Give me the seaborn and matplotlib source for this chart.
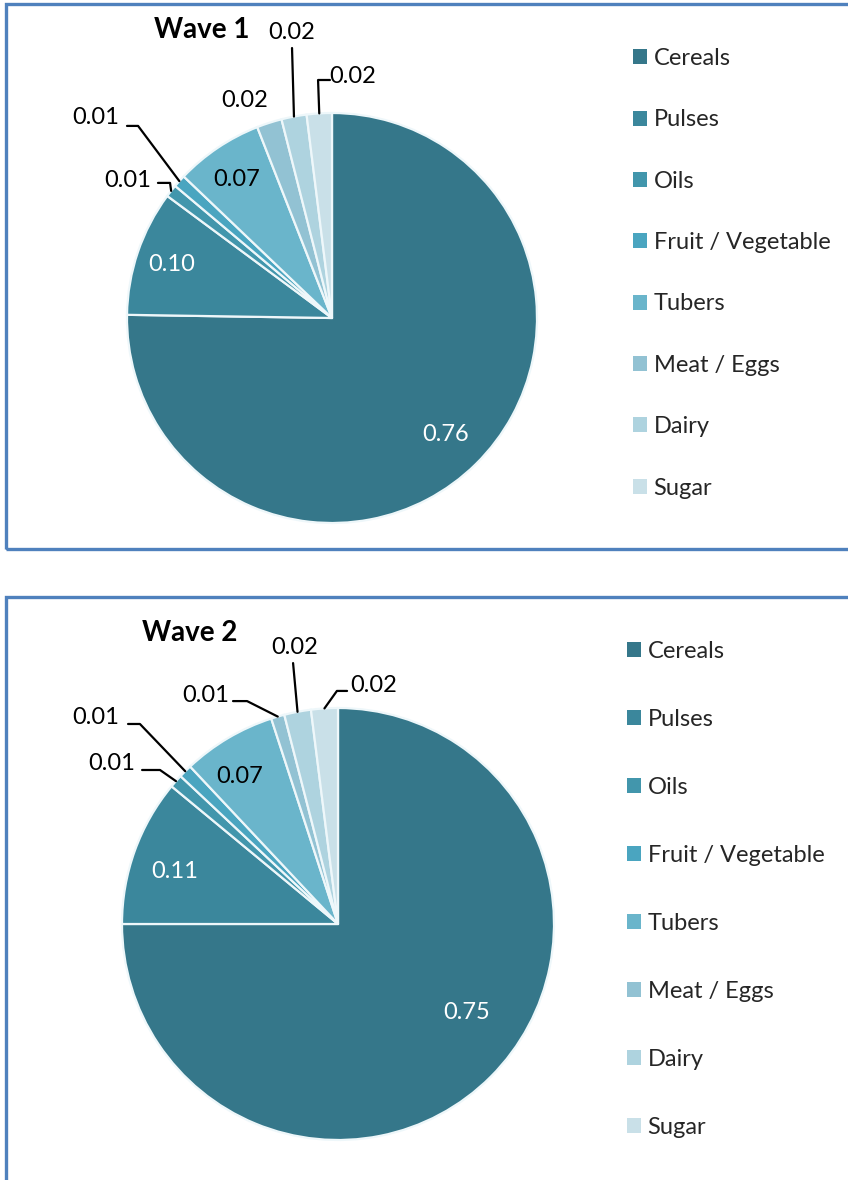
import matplotlib
matplotlib.use("Agg")
import matplotlib.pyplot as plt
import numpy as np
import seaborn as sns
from matplotlib.patches import Patch, Rectangle

# data
categories = ["Cereals", "Pulses", "Oils", "Fruit / Vegetable", "Tubers",
              "Meat / Eggs", "Dairy", "Sugar"]
wave1_values = [0.76, 0.10, 0.01, 0.01, 0.07, 0.02, 0.02, 0.02]
wave2_values = [0.75, 0.11, 0.01, 0.01, 0.07, 0.01, 0.02, 0.02]
wave_titles = ["Wave 1", "Wave 2"]

slice_colors = ["#35778A", "#3B879C", "#4296AC", "#4AA5C0",
                "#6AB5CB", "#92C2D3", "#AED3DF", "#C9E0E8"]

sns.set_theme(style="white")
plt.rcParams["font.family"] = ["Lato", "DejaVu Sans"]

W, H = 848, 1180
fig = plt.figure(figsize=(W / 100, H / 100), dpi=100)
palette = sns.color_palette(slice_colors)

# label layout per wave, in pie radius units: (text xy, leader start, leader elbow)
label_layout = [
    [((0.556, -0.566), None, None),
     ((-0.780, 0.259), None, None),
     ((-0.995, 0.673), (-0.849, 0.659), (-0.790, 0.659)),
     ((-1.151, 0.976), (-1.000, 0.937), (-0.946, 0.937)),
     ((-0.463, 0.678), None, None),
     ((-0.424, 1.059), None, None),
     ((-0.195, 1.395), (-0.195, 1.317), (-0.195, 1.317)),
     ((0.102, 1.180), (-0.010, 1.161), (-0.068, 1.161))],
    [((0.597, -0.412), None, None),
     ((-0.755, 0.241), None, None),
     ((-1.046, 0.745), (-0.907, 0.713), (-0.824, 0.713)),
     ((-1.120, 0.954), (-0.972, 0.926), (-0.917, 0.926)),
     ((-0.454, 0.681), None, None),
     ((-0.611, 1.060), (-0.486, 1.032), (-0.421, 1.032)),
     ((-0.199, 1.278), (-0.208, 1.208), (-0.208, 1.208)),
     ((0.167, 1.106), (0.042, 1.079), (-0.005, 1.079))],
]
# pie centre / radius (px), title xy, legend anchor (px), legend spacing
panels = [
    dict(cx=332, cy=318, r=205, title=(-0.634, 1.405), leg=(633, 48), spacing=1.71),
    dict(cx=338, cy=924, r=216, title=(-0.685, 1.347), leg=(627, 641), spacing=1.99),
]

for i, (values, p) in enumerate(zip([wave1_values, wave2_values], panels)):
    cx, cy, r = p["cx"], p["cy"], p["r"]
    ax = fig.add_axes([(cx - r) / W, 1 - (cy + r) / H, 2 * r / W, 2 * r / H])
    wedges, _ = ax.pie(values, colors=palette, startangle=90, counterclock=False,
                       wedgeprops=dict(edgecolor="#EEF7FA", linewidth=1.6))
    ax.set_xlim(-1, 1)
    ax.set_ylim(-1, 1)
    ax.axis("off")

    for j, (w, v) in enumerate(zip(wedges, values)):
        (tx, ty), start, elbow = label_layout[i][j]
        inside = j < 2
        ax.text(tx, ty, f"{v:.2f}", ha="center", va="center", fontsize=17,
                color="white" if inside else "black")
        if start is not None:
            mid = np.deg2rad((w.theta1 + w.theta2) / 2)
            ex, ey = np.cos(mid), np.sin(mid)
            ax.plot([start[0], elbow[0], ex], [start[1], elbow[1], ey],
                    color="black", lw=1.6, clip_on=False)

    ax.text(p["title"][0], p["title"][1], wave_titles[i], ha="center", va="center",
            fontsize=20, fontweight="bold", color="black")

    handles = [Patch(facecolor=c, edgecolor="none") for c in palette]
    lx, ly = p["leg"]
    ax.legend(handles, categories, loc="upper left", bbox_to_anchor=(lx / W, 1 - ly / H),
              bbox_transform=fig.transFigure, frameon=False, fontsize=17,
              handlelength=0.6, handleheight=0.6, handletextpad=0.27,
              labelspacing=p["spacing"], borderpad=0, borderaxespad=0)

# panel frames
fig.add_artist(Rectangle((6 / W, 1 - 549 / H), 860 / W, 545 / H, transform=fig.transFigure,
                         fill=False, edgecolor="#4F81BD", lw=2.4))
fig.add_artist(Rectangle((6 / W, 1 - 1200 / H), 860 / W, 603 / H, transform=fig.transFigure,
                         fill=False, edgecolor="#4F81BD", lw=2.4))

fig.savefig("out.png", dpi=100)
